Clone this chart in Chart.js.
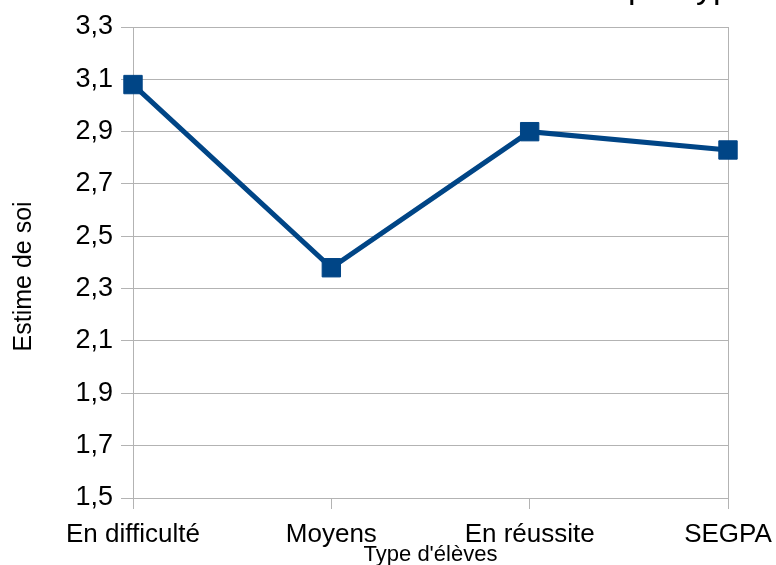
<!DOCTYPE html>
<html>
<head>
<meta charset="utf-8">
<script src="https://cdn.jsdelivr.net/npm/chart.js@4.4.1/dist/chart.umd.min.js"></script>
<style>
  html, body { margin: 0; padding: 0; background: #fff; overflow: hidden; width: 776px; height: 565px; }
  #wrap { position: relative; width: 776px; height: 565px; overflow: hidden; }
  #c { position: absolute; left: 0; top: 0; }
  #title { position: absolute; left: 628px; top: -34px; white-space: nowrap;
           font-family: "Liberation Sans", Arial, sans-serif; font-size: 34px; line-height: 40px; color: #000; }
  #title span { position: absolute; right: 100%; top: 0; }
</style>
</head>
<body>
<div id="wrap">
  <canvas id="c" width="776" height="568" style="width:776px;height:568px"></canvas>
  <div id="title"><span>Estime de soi&nbsp;</span>par type</div>
</div>
<script>
const categories = ["En difficulté", "Moyens", "En réussite", "SEGPA"];
const seriesValues = [3.08, 2.38, 2.90, 2.83];
const yMin = 1.5;
const yMax = 3.3;
const yStep = 0.2;
const yTitle = "Estime de soi";
const xTitle = "Type d'élèves";

const GRID = '#b3b3b3';
const BLUE = '#004586';
const FONT = '"Liberation Sans", Arial, sans-serif';

new Chart(document.getElementById('c'), {
  type: 'line',
  data: {
    labels: categories,
    datasets: [{
      data: seriesValues,
      borderColor: BLUE,
      backgroundColor: BLUE,
      borderWidth: 5,
      tension: 0,
      pointStyle: 'rect',
      pointRadius: 13,
      pointHoverRadius: 13,
      pointBorderWidth: 1,
      pointBorderColor: BLUE,
      pointBackgroundColor: BLUE,
      fill: false
    }]
  },
  options: {
    responsive: false,
    devicePixelRatio: 1,
    animation: false,
    layout: { padding: { top: 27, right: 48, bottom: 0, left: 0 } },
    plugins: { legend: { display: false }, tooltip: { enabled: false }, title: { display: false } },
    scales: {
      x: {
        type: 'category',
        offset: false,
        afterFit: (s) => { s.height = 70; s.paddingRight = 0; s.paddingLeft = 0; },
        grid: {
          color: (ctx) => (ctx.index === categories.length - 1 ? GRID : 'rgba(0,0,0,0)'),
          tickColor: GRID,
          tickLength: 11,
          lineWidth: 1,
          drawOnChartArea: true,
          drawTicks: true
        },
        border: { display: true, color: GRID, width: 1 },
        ticks: { color: '#000', font: { family: FONT, size: 26 }, padding: 10, maxRotation: 0, autoSkip: false },
        title: { display: true, text: xTitle, color: '#000', font: { family: FONT, size: 22 }, padding: { top: 0, bottom: 0 } }
      },
      y: {
        min: yMin,
        max: yMax,
        afterFit: (s) => { s.width = 133; },
        grid: { color: GRID, tickColor: GRID, tickLength: 12, lineWidth: 1 },
        border: { display: true, color: GRID, width: 1 },
        ticks: {
          stepSize: yStep,
          color: '#000',
          font: { family: FONT, size: 27 },
          padding: 8,
          callback: (v) => Number(v).toFixed(1).replace('.', ',')
        },
        title: { display: true, text: yTitle + '\u00A0\u00A0\u00A0\u00A0', color: '#000', font: { family: FONT, size: 25 }, padding: { top: 9, bottom: 0 } }
      }
    }
  }
});
</script>
</body>
</html>
